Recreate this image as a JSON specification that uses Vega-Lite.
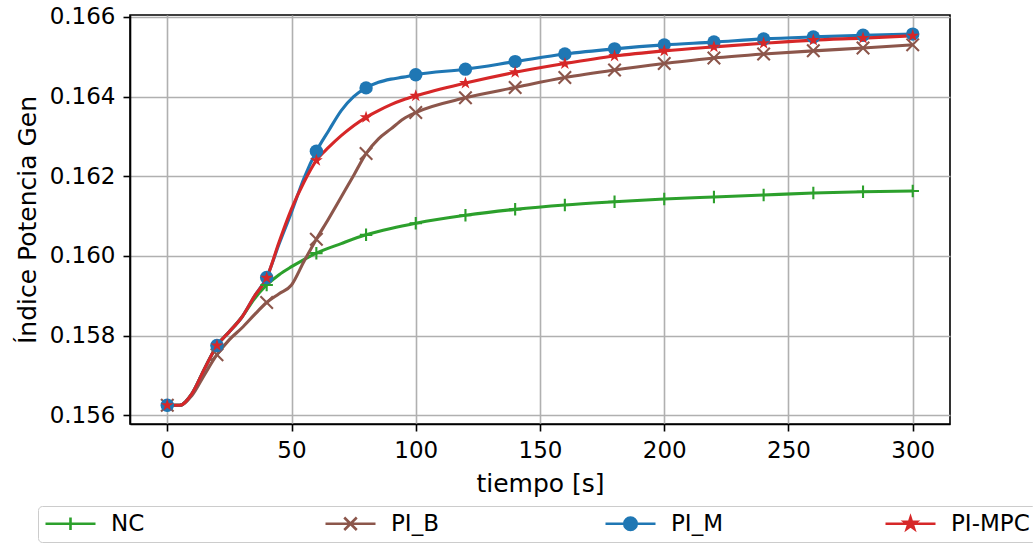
{
  "$schema": "https://vega.github.io/schema/vega-lite/v6.json",
  "width": 820,
  "height": 409,
  "autosize": {"type": "none"},
  "padding": {"left": 130, "top": 15, "right": 83, "bottom": 122},
  "config": {
    "font": "DejaVu Sans",
    "view": {"stroke": "black", "strokeWidth": 1.6},
    "axis": {
      "labelFont": "DejaVu Sans", "labelFontSize": 23, "labelColor": "black",
      "titleFont": "DejaVu Sans", "titleFontSize": 25, "titleFontWeight": "normal", "titleColor": "black",
      "gridColor": "#b0b0b0", "gridWidth": 1.6, "gridOpacity": 1,
      "domainColor": "black", "domainWidth": 1.6,
      "tickColor": "black", "tickWidth": 1.6, "tickSize": 7, "labelPadding": 8
    }
  },
  "data": {"values": [
    {"s":"NC","t":0,"v":0.15625},{"s":"NC","t":5,"v":0.15625},{"s":"NC","t":10,"v":0.15655},{"s":"NC","t":15,"v":0.15717},{"s":"NC","t":20,"v":0.15775},{"s":"NC","t":25,"v":0.1581},{"s":"NC","t":30,"v":0.15846},{"s":"NC","t":35,"v":0.15892},{"s":"NC","t":40,"v":0.15927},{"s":"NC","t":45,"v":0.15953},{"s":"NC","t":50,"v":0.15973},{"s":"NC","t":55,"v":0.15991},{"s":"NC","t":60,"v":0.16007},{"s":"NC","t":70,"v":0.16031},{"s":"NC","t":80,"v":0.16053},{"s":"NC","t":90,"v":0.16069},{"s":"NC","t":100,"v":0.16082},{"s":"NC","t":120,"v":0.16102},{"s":"NC","t":140,"v":0.16117},{"s":"NC","t":160,"v":0.16128},{"s":"NC","t":180,"v":0.16136},{"s":"NC","t":200,"v":0.16143},{"s":"NC","t":220,"v":0.16148},{"s":"NC","t":240,"v":0.16153},{"s":"NC","t":260,"v":0.16158},{"s":"NC","t":280,"v":0.16161},{"s":"NC","t":300,"v":0.16163},
    {"s":"PI_B","t":0,"v":0.15625},{"s":"PI_B","t":5,"v":0.15625},{"s":"PI_B","t":10,"v":0.1565},{"s":"PI_B","t":15,"v":0.15702},{"s":"PI_B","t":20,"v":0.15752},{"s":"PI_B","t":25,"v":0.1579},{"s":"PI_B","t":30,"v":0.15819},{"s":"PI_B","t":35,"v":0.15852},{"s":"PI_B","t":40,"v":0.15883},{"s":"PI_B","t":45,"v":0.15905},{"s":"PI_B","t":50,"v":0.15927},{"s":"PI_B","t":55,"v":0.15986},{"s":"PI_B","t":60,"v":0.16042},{"s":"PI_B","t":65,"v":0.16094},{"s":"PI_B","t":70,"v":0.16148},{"s":"PI_B","t":75,"v":0.16202},{"s":"PI_B","t":80,"v":0.16257},{"s":"PI_B","t":85,"v":0.16294},{"s":"PI_B","t":90,"v":0.16319},{"s":"PI_B","t":95,"v":0.16344},{"s":"PI_B","t":100,"v":0.1636},{"s":"PI_B","t":120,"v":0.16397},{"s":"PI_B","t":140,"v":0.16423},{"s":"PI_B","t":160,"v":0.16448},{"s":"PI_B","t":180,"v":0.16467},{"s":"PI_B","t":200,"v":0.16483},{"s":"PI_B","t":220,"v":0.16497},{"s":"PI_B","t":240,"v":0.16507},{"s":"PI_B","t":260,"v":0.16515},{"s":"PI_B","t":280,"v":0.16522},{"s":"PI_B","t":300,"v":0.1653},
    {"s":"PI_M","t":0,"v":0.15625},{"s":"PI_M","t":5,"v":0.15625},{"s":"PI_M","t":10,"v":0.15655},{"s":"PI_M","t":15,"v":0.15717},{"s":"PI_M","t":20,"v":0.15775},{"s":"PI_M","t":25,"v":0.1581},{"s":"PI_M","t":30,"v":0.15846},{"s":"PI_M","t":35,"v":0.15898},{"s":"PI_M","t":40,"v":0.15946},{"s":"PI_M","t":45,"v":0.1603},{"s":"PI_M","t":50,"v":0.1611},{"s":"PI_M","t":55,"v":0.16195},{"s":"PI_M","t":60,"v":0.16263},{"s":"PI_M","t":65,"v":0.16315},{"s":"PI_M","t":70,"v":0.16365},{"s":"PI_M","t":75,"v":0.164},{"s":"PI_M","t":80,"v":0.16422},{"s":"PI_M","t":85,"v":0.16436},{"s":"PI_M","t":90,"v":0.16444},{"s":"PI_M","t":95,"v":0.16449},{"s":"PI_M","t":100,"v":0.16455},{"s":"PI_M","t":120,"v":0.16469},{"s":"PI_M","t":140,"v":0.16488},{"s":"PI_M","t":160,"v":0.16507},{"s":"PI_M","t":180,"v":0.1652},{"s":"PI_M","t":200,"v":0.1653},{"s":"PI_M","t":220,"v":0.16537},{"s":"PI_M","t":240,"v":0.16545},{"s":"PI_M","t":260,"v":0.1655},{"s":"PI_M","t":280,"v":0.16554},{"s":"PI_M","t":300,"v":0.16557},
    {"s":"PI-MPC","t":0,"v":0.15625},{"s":"PI-MPC","t":5,"v":0.15625},{"s":"PI-MPC","t":10,"v":0.15655},{"s":"PI-MPC","t":15,"v":0.15717},{"s":"PI-MPC","t":20,"v":0.15775},{"s":"PI-MPC","t":25,"v":0.1581},{"s":"PI-MPC","t":30,"v":0.15846},{"s":"PI-MPC","t":35,"v":0.15898},{"s":"PI-MPC","t":40,"v":0.15945},{"s":"PI-MPC","t":45,"v":0.16035},{"s":"PI-MPC","t":50,"v":0.16118},{"s":"PI-MPC","t":55,"v":0.16185},{"s":"PI-MPC","t":60,"v":0.1624},{"s":"PI-MPC","t":65,"v":0.16273},{"s":"PI-MPC","t":70,"v":0.16302},{"s":"PI-MPC","t":75,"v":0.16327},{"s":"PI-MPC","t":80,"v":0.16348},{"s":"PI-MPC","t":85,"v":0.16365},{"s":"PI-MPC","t":90,"v":0.1638},{"s":"PI-MPC","t":95,"v":0.16392},{"s":"PI-MPC","t":100,"v":0.16402},{"s":"PI-MPC","t":120,"v":0.16434},{"s":"PI-MPC","t":140,"v":0.16461},{"s":"PI-MPC","t":160,"v":0.16483},{"s":"PI-MPC","t":180,"v":0.16502},{"s":"PI-MPC","t":200,"v":0.16515},{"s":"PI-MPC","t":220,"v":0.16525},{"s":"PI-MPC","t":240,"v":0.16534},{"s":"PI-MPC","t":260,"v":0.16542},{"s":"PI-MPC","t":280,"v":0.16547},{"s":"PI-MPC","t":300,"v":0.16553}
  ]},
  "encoding": {
    "x": {"field": "t", "type": "quantitative", "title": "tiempo [s]",
      "scale": {"domain": [-15, 315], "nice": false, "zero": false},
      "axis": {"values": [0, 50, 100, 150, 200, 250, 300], "titlePadding": 9}},
    "y": {"field": "v", "type": "quantitative", "title": "Índice Potencia Gen",
      "scale": {"domain": [0.15578, 0.16605], "nice": false, "zero": false},
      "axis": {"values": [0.156, 0.158, 0.16, 0.162, 0.164, 0.166], "format": ".3f", "titlePadding": 9}}
  },
  "layer": [
    {
      "mark": {"type": "line", "interpolate": "monotone", "strokeWidth": 3.1},
      "encoding": {
        "color": {"field": "s", "type": "nominal",
          "scale": {"domain": ["NC", "PI_B", "PI_M", "PI-MPC"], "range": ["#2ca02c", "#8c564b", "#1f77b4", "#d62728"]},
          "legend": {
            "title": null, "orient": "none", "legendX": -92, "legendY": 491,
            "direction": "horizontal", "columns": 4, "gridAlign": "all", "columnPadding": 130,
            "padding": 6, "strokeColor": "#cccccc", "fillColor": "white", "cornerRadius": 4,
            "symbolSize": 400, "labelOffset": 44, "labelFontSize": 23, "labelFont": "DejaVu Sans", "labelColor": "black",
            "symbolStrokeWidth": 2.6,
            "symbolType": {"expr": "datum.value === 'NC' ? 'M-1,0L4,0M1.5,-0.625L1.5,0.625' : datum.value === 'PI_B' ? 'M-1,0L4,0M0.875,-0.625L2.125,0.625M0.875,0.625L2.125,-0.625' : datum.value === 'PI_M' ? 'M-1,0L4,0M2.125,0A0.625,0.625,0,1,1,0.875,0A0.625,0.625,0,1,1,2.125,0Z' : 'M-1,0L4,0M1.5,-0.625L1.6403,-0.1931L2.094,-0.1931L1.7269,0.0738L1.8675,0.5056L1.5,0.2388L1.1325,0.5056L1.2731,0.0738L0.906,-0.1931L1.3597,-0.1931Z'"},
            "symbolFillColor": {"expr": "scale('color', datum.value)"},
            "symbolStrokeColor": {"expr": "scale('color', datum.value)"}
          }}
      }
    },
    {
      "transform": [{"filter": "datum.t % 20 === 0 && (datum.s === 'NC' || datum.s === 'PI_B')"}],
      "mark": {"type": "point", "filled": false, "strokeWidth": 2.1, "opacity": 1, "size": 156},
      "encoding": {
        "color": {"field": "s", "type": "nominal"},
        "shape": {"condition": {"test": "datum.s === 'NC'", "value": "M-1,0L1,0M0,-1L0,1"}, "value": "M-1,-1L1,1M-1,1L1,-1"}
      }
    },
    {
      "transform": [{"filter": "datum.t % 20 === 0 && (datum.s === 'PI_M' || datum.s === 'PI-MPC')"}],
      "mark": {"type": "point", "filled": true, "opacity": 1, "size": 180},
      "encoding": {
        "color": {"field": "s", "type": "nominal"},
        "shape": {"condition": {"test": "datum.s === 'PI_M'", "value": "circle"}, "value": "M0,-1L0.2245,-0.309L0.951,-0.309L0.363,0.118L0.588,0.809L0,0.382L-0.588,0.809L-0.363,0.118L-0.951,-0.309L-0.2245,-0.309Z"}
      }
    }
  ]
}
